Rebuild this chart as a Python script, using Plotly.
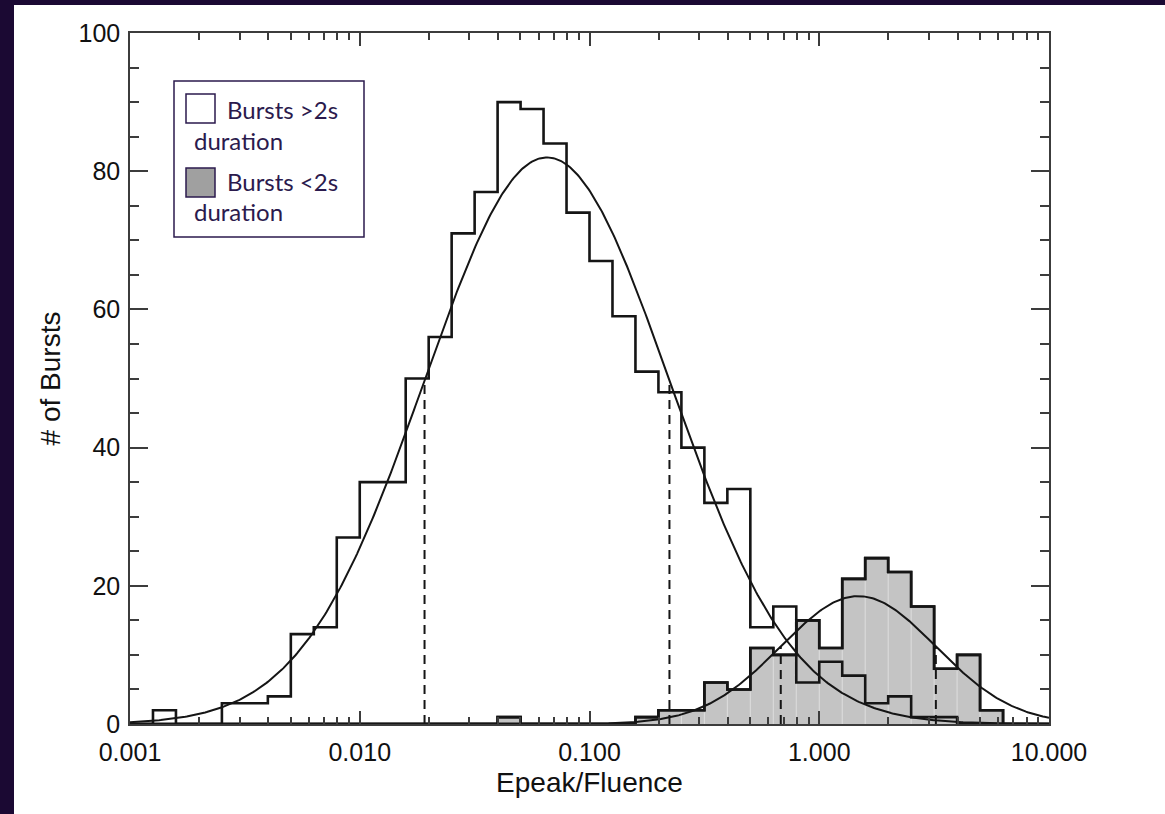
import numpy as np
import plotly.graph_objects as go

# ---------------- data ----------------
LOG_MIN = -3.0          # first bin edge: 10^-3
BIN_WIDTH = 0.1         # bin width in decades
N_BINS = 40

long_counts = [0, 2, 0, 0, 3, 3, 4, 13, 14, 27,
               35, 35, 50, 56, 71, 77, 90, 89, 84, 74,
               67, 59, 51, 48, 40, 32, 34, 14, 17, 6,
               9, 7, 3, 4, 1, 1, 0, 0, 0, 0]
short_counts = [0, 0, 0, 0, 0, 0, 0, 0, 0, 0,
                0, 0, 0, 0, 0, 0, 1, 0, 0, 0,
                0, 0, 1, 2, 2, 6, 5, 11, 10, 15,
                11, 21, 24, 22, 17, 8, 10, 2, 0, 0]

# Gaussian fits in log10 space: amplitude, centre (log10), sigma (decades)
long_fit = {"amp": 82.0, "mu": -1.185, "sigma": 0.533}
short_fit = {"amp": 18.5, "mu": 0.170, "sigma": 0.3375}

x_tickvals = [0.001, 0.01, 0.1, 1, 10]
x_ticktext = ["0.001", "0.010", "0.100", "1.000", "10.000"]
y_tickvals = [0, 20, 40, 60, 80, 100]

legend_labels = ["Bursts >2s", "Bursts <2s"]
legend_sub = "dura\u200ction"

# ---------------- derived ----------------
edges = 10 ** (LOG_MIN + BIN_WIDTH * np.arange(N_BINS + 1))


def gauss(fit, xs):
    return fit["amp"] * np.exp(-0.5 * ((np.log10(xs) - fit["mu"]) / fit["sigma"]) ** 2)


xs_curve = np.logspace(-3, 1, 600)

BLACK = "#151515"
AXIS = "#3c3c3c"
GREY_FILL = "#c4c4c4"
PURPLE = "#2b1a4d"
DARK_BG = "#1b0933"

fig = go.Figure()

# short bursts: filled step histogram
fig.add_trace(go.Scatter(
    x=edges, y=short_counts + [short_counts[-1]], mode="lines",
    line=dict(shape="hv", color=BLACK, width=2.6),
    fill="tozeroy", fillcolor=GREY_FILL, hoverinfo="skip", showlegend=False))

# faint separators inside grey bars
sx, sy = [], []
for k in range(1, N_BINS):
    h = min(short_counts[k - 1], short_counts[k])
    if h > 0:
        sx += [edges[k], edges[k], None]
        sy += [0, h - 0.3, None]
fig.add_trace(go.Scatter(x=sx, y=sy, mode="lines",
                         line=dict(color="#dedede", width=1),
                         hoverinfo="skip", showlegend=False))
# re-draw short outline above separators
fig.add_trace(go.Scatter(
    x=edges, y=short_counts + [short_counts[-1]], mode="lines",
    line=dict(shape="hv", color=BLACK, width=2.6),
    hoverinfo="skip", showlegend=False))

# long bursts: outline step histogram
fig.add_trace(go.Scatter(
    x=edges, y=long_counts + [long_counts[-1]], mode="lines",
    line=dict(shape="hv", color=BLACK, width=2.6),
    hoverinfo="skip", showlegend=False))

# gaussian fits
for fit in (long_fit, short_fit):
    fig.add_trace(go.Scatter(x=xs_curve, y=gauss(fit, xs_curve), mode="lines",
                             line=dict(color=BLACK, width=2),
                             hoverinfo="skip", showlegend=False))
    for sgn in (-1, 1):
        xv = 10 ** (fit["mu"] + sgn * fit["sigma"])
        fig.add_trace(go.Scatter(x=[xv, xv], y=[0, fit["amp"] * np.exp(-0.5)],
                                 mode="lines",
                                 line=dict(color=BLACK, width=2, dash="9px,6px"),
                                 hoverinfo="skip", showlegend=False))

# ---------------- layout helpers (pixel -> paper) ----------------
L, R, T, B = 130, 1049, 33, 724
W, H = 1165, 814


def fx(px):
    return (px - L) / (R - L)


def fy(py):
    return (B - py) / (B - T)


shapes = [
    # dark frame strips
    dict(type="rect", xref="paper", yref="paper", x0=fx(0), x1=fx(14), y0=fy(H), y1=fy(0),
         fillcolor=DARK_BG, line=dict(width=0), layer="above"),
    dict(type="rect", xref="paper", yref="paper", x0=fx(0), x1=fx(W), y0=fy(5), y1=fy(0),
         fillcolor=DARK_BG, line=dict(width=0), layer="above"),
    # legend box
    dict(type="rect", xref="paper", yref="paper", x0=fx(174), x1=fx(364), y0=fy(237), y1=fy(81),
         fillcolor="white", line=dict(color=PURPLE, width=1.5), layer="above"),
    dict(type="rect", xref="paper", yref="paper", x0=fx(186), x1=fx(215), y0=fy(123), y1=fy(94),
         fillcolor="white", line=dict(color=PURPLE, width=1.5), layer="above"),
    dict(type="rect", xref="paper", yref="paper", x0=fx(186), x1=fx(215), y0=fy(197), y1=fy(168),
         fillcolor="#a0a0a0", line=dict(color=PURPLE, width=1.5), layer="above"),
]

leg_font = dict(family="Lato, Nunito, sans-serif", size=24, color=PURPLE)
annotations = [
    dict(text=legend_labels[0], x=fx(225), y=fy(110), xref="paper", yref="paper",
         xanchor="left", yanchor="middle", showarrow=False, font=leg_font),
    dict(text=legend_sub, x=fx(192), y=fy(140), xref="paper", yref="paper",
         xanchor="left", yanchor="middle", showarrow=False, font=leg_font),
    dict(text=legend_labels[1], x=fx(225), y=fy(182), xref="paper", yref="paper",
         xanchor="left", yanchor="middle", showarrow=False, font=leg_font),
    dict(text=legend_sub, x=fx(192), y=fy(211), xref="paper", yref="paper",
         xanchor="left", yanchor="middle", showarrow=False, font=leg_font),
]

minor_x = [m * 10 ** d for d in range(-3, 1) for m in range(2, 10)]
minor_y = [v for v in range(0, 101, 5) if v % 20 != 0]

axis_font = dict(family="Liberation Sans, Arial, Helvetica, sans-serif", size=25, color="#111")
title_font = dict(family="Liberation Sans, Arial, Helvetica, sans-serif", size=28, color="#111")

fig.update_layout(
    width=W, height=H,
    margin=dict(l=L, r=W - R, t=T, b=H - B, pad=0),
    paper_bgcolor="white", plot_bgcolor="white",
    showlegend=False,
    shapes=shapes, annotations=annotations,
    xaxis=dict(
        type="log", range=[-3, 1], automargin=False,
        tickmode="array", tickvals=x_tickvals, ticktext=x_ticktext,
        ticks="inside", ticklen=13, tickwidth=1.5, tickcolor=AXIS,
        showline=True, linecolor=AXIS, linewidth=1.5, mirror="ticks",
        showgrid=False, zeroline=False,
        tickfont=axis_font, ticklabelstandoff=5,
        minor=dict(tickmode="array", tickvals=minor_x, ticks="inside", ticklen=7,
                   tickwidth=1.5, tickcolor=AXIS, showgrid=False),
        title=dict(text="Epeak/Fluence", font=title_font, standoff=8),
    ),
    yaxis=dict(
        range=[0, 100], automargin=False,
        tickmode="array", tickvals=y_tickvals,
        ticks="inside", ticklen=18, tickwidth=1.5, tickcolor=AXIS,
        showline=True, linecolor=AXIS, linewidth=1.5, mirror="ticks",
        showgrid=False, zeroline=False,
        tickfont=axis_font, ticklabelstandoff=3,
        minor=dict(tickmode="array", tickvals=minor_y, ticks="inside", ticklen=9,
                   tickwidth=1.5, tickcolor=AXIS, showgrid=False),
        title=dict(text="# of Bursts", font=title_font, standoff=10),
    ),
)

fig.write_html("out.html")
